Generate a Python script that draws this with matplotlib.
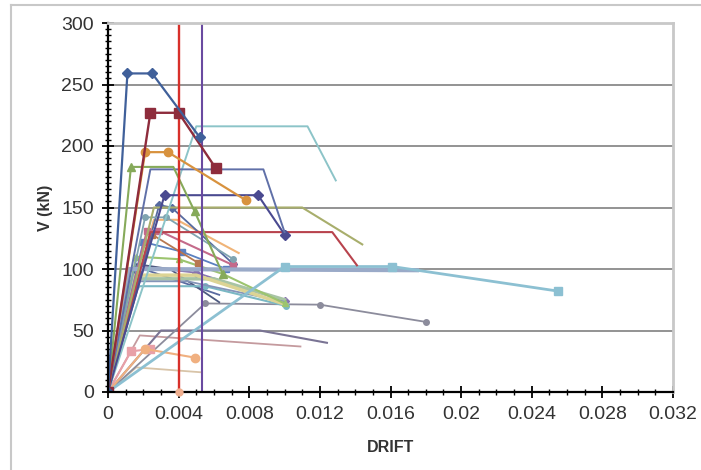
import matplotlib
matplotlib.use("Agg")
import matplotlib.pyplot as plt
from matplotlib.ticker import MultipleLocator, FuncFormatter
from matplotlib.lines import Line2D

plt.rcParams['font.family'] = ['Liberation Sans', 'DejaVu Sans']

# drift / shear (kN) pairs
d_a = [0, 0.0011, 0.0025, 0.0052]; v_a = [0, 259, 259, 207]
d_b = [0, 0.0024, 0.0040, 0.0061]; v_b = [0, 227, 227, 182]
d_c = [0, 0.0021, 0.0034, 0.0078]; v_c = [0, 195, 195, 156]
d_d = [0, 0.0013, 0.0037, 0.0049, 0.0065]; v_d = [0, 183, 183, 147, 96]
d_e = [0, 0.0024, 0.0088, 0.0100]; v_e = [0, 181, 181, 130]
d_f = [0, 0.0032, 0.0085, 0.0100]; v_f = [0, 160, 160, 128]
d_g = [0, 0.0050, 0.0113, 0.0129]; v_g = [0, 216, 216, 172]
d_h = [0, 0.0026, 0.0110, 0.0144]; v_h = [0, 150, 150, 120]
d_i = [0, 0.0024, 0.0127, 0.0141]; v_i = [0, 130, 130, 103]
d_j = [0, 0.0012, 0.0175]; v_j = [0, 100, 99]
d_k = [0, 0.0100, 0.0161, 0.0255]; v_k = [0, 102, 102, 82]
d_l = [0, 0.0055, 0.0120, 0.0180]; v_l = [0, 72, 71, 57]
d_m = [0, 0.0030, 0.0086, 0.0124]; v_m = [0, 50, 50, 40]
d_n = [0, 0.0018, 0.0109]; v_n = [0, 46, 37]
d_o = [0, 0.0013, 0.0024]; v_o = [0, 33, 35]
d_p = [0, 0.0021, 0.0049]; v_p = [0, 35, 28]
d_q = [0, 0.0016, 0.0053]; v_q = [0, 20, 16]
d_r = [0, 0.0021, 0.0033, 0.0071]; v_r = [0, 142, 142, 108]
d_s = [0, 0.0022, 0.0029, 0.0071]; v_s = [0, 131, 131, 103]
d_t = [0, 0.0029, 0.0036, 0.0071]; v_t = [0, 152, 150, 104]
d_u = [0, 0.0026, 0.0039, 0.0074]; v_u = [0, 140, 140, 113]
d_v = [0, 0.0025, 0.0051]; v_v = [0, 128, 105]
d_w = [0, 0.0020, 0.0042, 0.0067]; v_w = [0, 122, 114, 100]
d_x = [0, 0.0016, 0.0040, 0.0065, 0.0100]; v_x = [0, 110, 108, 96, 72]
d_y = [0, 0.0015, 0.0050, 0.0101]; v_y = [0, 95, 95, 71]
d_z = [0, 0.0012, 0.0045, 0.0101]; v_z = [0, 90, 90, 73]
d_aa = [0, 0.0014, 0.0060, 0.0100]; v_aa = [0, 92, 92, 75]
d_ab = [0, 0.0016, 0.0055, 0.0101]; v_ab = [0, 86, 86, 70]
d_ac = [0, 0.0018, 0.0050, 0.0100]; v_ac = [0, 102, 97, 74]
d_ad = [0, 0.0016, 0.0035, 0.0063]; v_ad = [0, 104, 100, 73]
d_ae = [0, 0.0020, 0.0063]; v_ae = [0, 100, 79]

# drift limits
limit_1 = 0.004
limit_2 = 0.0053

fig = plt.figure(figsize=(7.01, 4.70), dpi=100)
ax = fig.add_axes([108/701, 1-392/470, (673-108)/701, (392-23)/470])

# (data, colour, marker, markersize, linewidth) - background lines first
series = [
    (d_q, v_q, '#d8c4a8', None, 0, 1.3),
    (d_n, v_n, '#c49a9e', None, 0, 1.3),
    (d_m, v_m, '#7a7494', None, 0, 1.5),
    (d_l, v_l, '#8c8c9c', 'o', 4, 1.3),
    (d_o, v_o, '#e8a0a8', 's', 6, 1.5),
    (d_p, v_p, '#f0b080', 'o', 6, 1.5),
    (d_ae, v_ae, '#5a6aa0', None, 0, 1.3),
    (d_ad, v_ad, '#4e5a80', None, 0, 1.3),
    (d_ac, v_ac, '#8874b0', 'D', 4, 1.3),
    (d_ab, v_ab, '#7ab8c4', 'o', 4, 1.5),
    (d_aa, v_aa, '#a8c4a4', None, 0, 2.5),
    (d_z, v_z, '#8494b8', None, 0, 1.3),
    (d_y, v_y, '#dcd494', None, 0, 2.5),
    (d_x, v_x, '#9cc46e', '^', 5, 1.5),
    (d_w, v_w, '#5a80c0', 's', 5, 1.3),
    (d_v, v_v, '#b87850', 's', 5, 1.3),
    (d_u, v_u, '#f0b478', None, 0, 1.5),
    (d_t, v_t, '#566aa0', 'D', 4, 1.3),
    (d_s, v_s, '#c46a8a', 's', 5, 1.5),
    (d_r, v_r, '#80a4b0', 'o', 4, 1.3),
    (d_j, v_j, '#9aaac8', None, 0, 3.0),
    (d_k, v_k, '#8cc0d2', 's', 6, 2.0),
    (d_i, v_i, '#b8434d', None, 0, 1.5),
    (d_h, v_h, '#a8ae6c', None, 0, 1.5),
    (d_g, v_g, '#8cc4c8', None, 0, 1.4),
    (d_f, v_f, '#4a4a90', 'D', 5, 1.5),
    (d_e, v_e, '#6070a8', None, 0, 1.4),
]
for dx, vy, col, mk, ms, lw in series:
    ax.plot(dx, vy, color=col, marker=mk, markersize=ms, linewidth=lw)

ax.plot(d_d, v_d, color='#86aa5a', marker='^', markersize=6, linewidth=1.5,
        markevery=[1, 3, 4])

ax.plot([limit_1, limit_1], [0, 300], color='#d8302a', linewidth=1.7)
ax.plot([limit_1], [0], 'o', color='#f0b090', markersize=5, clip_on=False, zorder=5)
ax.plot([limit_2, limit_2], [0, 300], color='#6a4aa0', linewidth=1.5)

ax.plot(d_c, v_c, color='#d8923e', marker='o', markersize=6, linewidth=1.6)
ax.plot(d_b, v_b, color='#8e2c3c', marker='s', markersize=7, linewidth=1.7)
ax.plot(d_a, v_a, color='#40609a', marker='D', markersize=5, linewidth=1.6)

ax.set_xlim(0, 0.032)
ax.set_ylim(0, 300)
ax.xaxis.set_major_locator(MultipleLocator(0.004))
ax.xaxis.set_minor_locator(MultipleLocator(0.001))
ax.yaxis.set_major_locator(MultipleLocator(50))
ax.yaxis.set_minor_locator(MultipleLocator(5))
ax.xaxis.set_major_formatter(FuncFormatter(lambda v, p: '%g' % round(v, 4)))

ax.tick_params(which='major', direction='inout', length=8, width=1.3,
               labelsize=14, labelcolor='#333333', pad=6)
ax.tick_params(which='minor', direction='inout', length=4, width=1.0)

ax.grid(axis='y', color='#8a8a8a', linewidth=1.3)
ax.set_axisbelow(True)
for s in ['left', 'bottom']:
    ax.spines[s].set_linewidth(1.6)
for s in ['top', 'right']:
    ax.spines[s].set_color('#c8c8c8')
    ax.spines[s].set_linewidth(2.0)

ax.set_xlabel('DRIFT', fontsize=11.5, fontweight='bold', color='#333333', labelpad=12)
ax.set_ylabel('V (kN)', fontsize=11.5, fontweight='bold', color='#333333', labelpad=6)

# light frame around the chart
fig.add_artist(Line2D([11/701, 11/701], [0, 1-5/470], color='#c8c8c8', linewidth=1.5))
fig.add_artist(Line2D([11/701, 1], [1-5/470, 1-5/470], color='#c8c8c8', linewidth=1.5))

fig.savefig('out.png', dpi=100)
